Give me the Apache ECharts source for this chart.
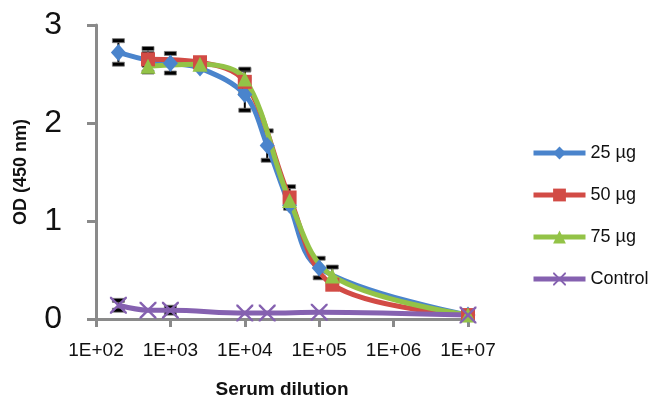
<!DOCTYPE html>
<html>
<head>
<meta charset="utf-8">
<script src="https://cdn.jsdelivr.net/npm/echarts@6/dist/echarts.min.js"></script>
<style>
  html, body { margin: 0; padding: 0; background: #fff; }
  #chart { width: 654px; height: 396px; }
</style>
</head>
<body>
<div id="chart"></div>
<script>
// dilution (x) and OD 450 nm (y), with error-bar half widths
const xTickLabels = ['1E+02', '1E+03', '1E+04', '1E+05', '1E+06', '1E+07'];

const dil25 = [200, 500, 1000, 2500, 10000, 20000, 40000, 100000, 10000000];
const od25 = [2.72, 2.64, 2.61, 2.56, 2.29, 1.77, 1.16, 0.52, 0.04];
const sd25 = [0.12, 0.12, 0.10, 0, 0.16, 0.15, 0, 0.10, 0];

const dil50 = [500, 2500, 10000, 40000, 150000, 10000000];
const od50 = [2.65, 2.62, 2.42, 1.24, 0.35, 0.04];
const sd50 = [0.06, 0, 0.12, 0.11, 0, 0];

const dil75 = [500, 2500, 10000, 40000, 150000, 10000000];
const od75 = [2.58, 2.60, 2.45, 1.21, 0.44, 0.04];
const sd75 = [0, 0, 0.10, 0, 0.09, 0];

const dilCtrl = [200, 500, 1000, 10000, 20000, 100000, 10000000];
const odCtrl = [0.14, 0.09, 0.09, 0.06, 0.06, 0.07, 0.04];
const sdCtrl = [0.05, 0, 0.03, 0, 0, 0, 0];

const groups = [
  {name: '25 µg', color: '#4A84CC', symbol: 'diamond', size: [15, 17], x: dil25, y: od25, sd: sd25},
  {name: '50 µg', color: '#D24B45', symbol: 'rect', size: 14, x: dil50, y: od50, sd: sd50},
  {name: '75 µg', color: '#93C347', symbol: 'triangle', size: 15, x: dil75, y: od75, sd: sd75},
  {name: 'Control', color: '#8561B0', symbol: 'path://M0,0 L2,0 L10,8 L18,0 L20,0 L20,2 L12,10 L20,18 L20,20 L18,20 L10,12 L2,20 L0,20 L0,18 L8,10 L0,2 Z', size: 17, x: dilCtrl, y: odCtrl, sd: sdCtrl},
];

const chart = echarts.init(document.getElementById('chart'));

function errorBar(params, api) {
  const x = api.value(0);
  const lo = api.coord([x, api.value(1)]);
  const hi = api.coord([x, api.value(2)]);
  const w = 6;
  const style = {stroke: '#000', lineWidth: 2};
  const cap = {fill: '#000', stroke: '#777', lineWidth: 0.8};
  return {
    type: 'group',
    children: [
      {type: 'line', shape: {x1: lo[0], y1: lo[1], x2: hi[0], y2: hi[1]}, style},
      {type: 'rect', shape: {x: hi[0] - w, y: hi[1] - 2, width: 2 * w, height: 4}, style: cap},
      {type: 'rect', shape: {x: lo[0] - w, y: lo[1] - 2, width: 2 * w, height: 4}, style: cap},
    ],
  };
}

const series = [];
groups.forEach(g => {
  series.push({
    name: g.name,
    type: 'line',
    smooth: 0.35,
    z: 3,
    symbol: g.symbol,
    symbolSize: g.size,
    showAllSymbol: true,
    color: g.color,
    lineStyle: {width: 5, color: g.color},
    itemStyle: {color: g.color},
    data: g.x.map((d, i) => [d, g.y[i]]),
  });
  series.push({
    type: 'custom',
    z: 2,
    silent: true,
    renderItem: errorBar,
    encode: {x: 0, y: [1, 2]},
    data: g.x.map((d, i) => [d, g.y[i] - g.sd[i], g.y[i] + g.sd[i]]).filter((p, i) => g.sd[i] > 0),
  });
});

chart.setOption({
  animation: false,
  backgroundColor: '#fff',
  grid: {left: 96, right: 186, top: 25, bottom: 77, outerBoundsMode: 'none'},
  legend: {
    orient: 'vertical',
    left: 526,
    top: 137,
    itemWidth: 52,
    itemHeight: 16,
    itemGap: 20,
    lineStyle: {width: 5},
    data: groups.map(g => g.name),
    textStyle: {fontFamily: 'Liberation Sans', fontSize: 18, color: '#111', lineHeight: 22},
  },
  xAxis: {
    type: 'log',
    logBase: 10,
    min: 100,
    max: 10000000,
    name: 'Serum dilution',
    nameLocation: 'middle',
    nameGap: 61,
    nameTextStyle: {fontFamily: 'Liberation Sans', fontWeight: 'bold', fontSize: 19, color: '#111'},
    axisLine: {lineStyle: {color: '#8a8a8a', width: 3}},
    axisTick: {length: 8, lineStyle: {color: '#8a8a8a', width: 3}},
    axisLabel: {
      margin: 22,
      fontFamily: 'Liberation Sans',
      fontSize: 19,
      color: '#111',
      formatter: (v, i) => xTickLabels[i],
    },
    splitLine: {show: false},
  },
  yAxis: {
    type: 'value',
    min: 0,
    max: 3,
    interval: 1,
    name: 'OD (450 nm)',
    nameLocation: 'middle',
    nameGap: 66,
    nameTextStyle: {fontFamily: 'Liberation Sans', fontWeight: 'bold', fontSize: 18, color: '#111'},
    axisLine: {show: true, lineStyle: {color: '#8a8a8a', width: 3}},
    axisTick: {show: true, length: 9, lineStyle: {color: '#8a8a8a', width: 3}},
    axisLabel: {margin: 34, fontFamily: 'Liberation Sans', fontSize: 32, color: '#111'},
    splitLine: {show: false},
  },
  series,
});
</script>
</body>
</html>
